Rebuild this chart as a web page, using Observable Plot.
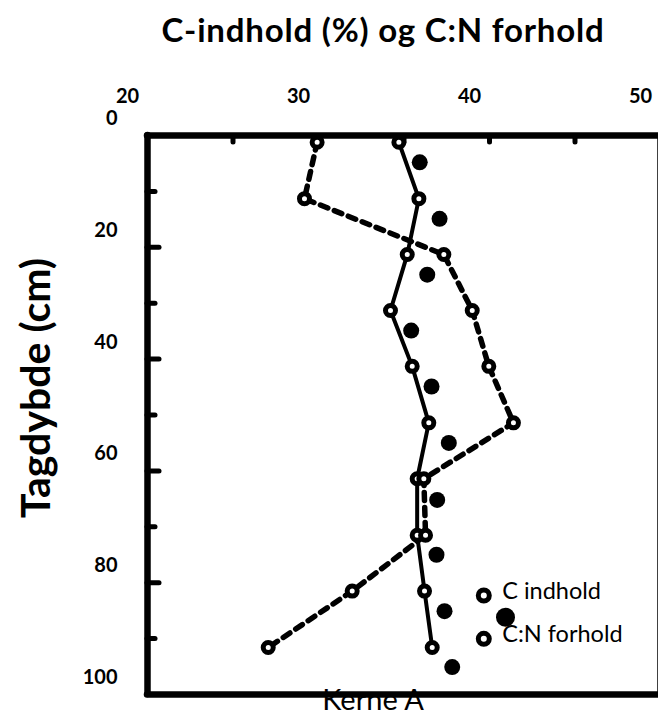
<!DOCTYPE html>
<html>
<head>
<meta charset="utf-8">
<script src="https://cdn.jsdelivr.net/npm/d3@7"></script>
<script src="https://cdn.jsdelivr.net/npm/@observablehq/plot@0.6"></script>
<style>
  html, body { margin: 0; padding: 0; background: #fff; overflow: hidden; }
  #wrap { position: relative; width: 658px; height: 714px; }
  #title { position: absolute; left: 83px; width: 600px; top: 9px; text-align: center;
           font-family: Lato, "Open Sans", sans-serif; font-weight: 700; font-size: 33px; line-height: 40px;
           letter-spacing: 0.8px; color: #000; }
  #chart svg { display: block; }
</style>
</head>
<body>
<div id="wrap">
  <div id="chart"></div>
  <div id="title"></div>
</div>
<script>
// ---- data ----
const titleText = "C-indhold (%) og C:N forhold";
const yTitle = "Tagdybde (cm)";
const caption = "Kerne A";
const legendLabels = ["C indhold", "C:N forhold"];

const depthOpen   = [1.2, 11.3, 21.3, 31.3, 41.3, 51.4, 61.4, 71.5, 81.5, 91.6];
const cIndhold    = [34.70, 35.87, 35.19, 34.21, 35.48, 36.45, 35.77, 35.77, 36.20, 36.65];
const cnForhold   = [29.92, 29.18, 37.33, 38.99, 39.96, 41.40, 36.16, 36.26, 31.97, 27.06];
const depthFilled = [4.8, 14.9, 24.9, 34.9, 44.9, 55.0, 65.2, 75.0, 85.1, 95.1];
const filledVals  = [35.92, 37.08, 36.36, 35.42, 36.61, 37.62, 36.94, 36.90, 37.37, 37.82];

const xDomain = [20, 50];
const yDomain = [0, 100];
const xTickLabels = [20, 30, 40, 50];
const yTickLabels = [0, 20, 40, 60, 80, 100];
const xInnerTicks = [25, 30, 35, 40, 45];
const yMajorTicks = [20, 40, 60, 80];
const yMinorTicks = [10, 30, 50, 70, 90];

// ---- tables ----
const cData  = depthOpen.map((d, i) => ({depth: d, value: cIndhold[i]}));
const cnData = depthOpen.map((d, i) => ({depth: d, value: cnForhold[i]}));
const fData  = depthFilled.map((d, i) => ({depth: d, value: filledVals[i]}));

document.getElementById("title").textContent = titleText;

const FONT = "Lato, 'Open Sans', sans-serif";

const chart = Plot.plot({
  width: 658,
  height: 714,
  marginTop: 135,
  marginBottom: 20,
  marginLeft: 147,
  marginRight: -2,
  style: {fontFamily: FONT, background: "transparent", color: "black", overflow: "visible"},
  x: {domain: xDomain},
  y: {domain: yDomain, reverse: true},
  marks: [
    // tick labels (offset from the frame as in the reference)
    Plot.axisX(xTickLabels, {anchor: "top", tickSize: 0, tickPadding: 33, dx: -20, fontSize: 20, fontWeight: "bold", label: null}),
    Plot.axisY(yTickLabels, {anchor: "left", tickSize: 0, tickPadding: 30, dy: -17, fontSize: 20, fontWeight: "bold", label: null}),
    // inner tick marks
    Plot.axisX(xInnerTicks, {anchor: "top", tickSize: -6, tickFormat: () => "", strokeWidth: 5, strokeLinecap: "round", label: null}),
    Plot.axisY(yMajorTicks, {anchor: "left", tickSize: -12, tickFormat: () => "", strokeWidth: 5, strokeLinecap: "round", label: null}),
    Plot.axisY(yMinorTicks, {anchor: "left", tickSize: -8, tickFormat: () => "", strokeWidth: 5, strokeLinecap: "round", label: null}),
    // caption, partly hidden by the frame
    Plot.text([caption], {frameAnchor: "bottom", dx: -31, dy: 6, fontSize: 29, fill: "black", lineAnchor: "middle", textAnchor: "middle"}),
    // y title
    Plot.text([yTitle], {frameAnchor: "left", textAnchor: "middle", dx: -111, dy: -27, rotate: -90, fontSize: 41, fontWeight: "bold", fill: "black"}),
    // series
    Plot.line(cData, {x: "value", y: "depth", stroke: "black", strokeWidth: 4}),
    Plot.line(cnData, {x: "value", y: "depth", stroke: "black", strokeWidth: 5.5, strokeDasharray: "8,7"}),
    Plot.dot(cData, {x: "value", y: "depth", r: 5, fill: "white", stroke: "black", strokeWidth: 5}),
    Plot.dot(cnData, {x: "value", y: "depth", r: 5, fill: "white", stroke: "black", strokeWidth: 5}),
    Plot.dot(fData, {x: "value", y: "depth", r: 8, fill: "black", stroke: "none"}),
    // frame
    Plot.ruleY([yDomain[0]], {stroke: "black", strokeWidth: 6.5, strokeLinecap: "round"}),
    Plot.ruleY([yDomain[1]], {stroke: "black", strokeWidth: 6.5, strokeLinecap: "round"}),
    Plot.ruleX([xDomain[0]], {stroke: "black", strokeWidth: 6.5, strokeLinecap: "round"}),
    Plot.ruleX([xDomain[1]], {stroke: "black", strokeWidth: 6.5, strokeLinecap: "round"}),
    // legend
    Plot.dot([legendLabels[0]], {frameAnchor: "bottom-right", dx: -176.7, dy: -99, r: 5.5, fill: "white", stroke: "black", strokeWidth: 5}),
    Plot.dot([legendLabels[1]], {frameAnchor: "bottom-right", dx: -176.7, dy: -55.7, r: 5.5, fill: "white", stroke: "black", strokeWidth: 5}),
    Plot.dot([legendLabels[0]], {frameAnchor: "bottom-right", dx: -155, dy: -77.3, r: 9.5, fill: "black", stroke: "none"}),
    Plot.text([legendLabels[0]], {frameAnchor: "bottom-right", dx: -158.3, dy: -95.3, textAnchor: "start", fontSize: 23.5, fill: "black"}),
    Plot.text([legendLabels[1]], {frameAnchor: "bottom-right", dx: -158.3, dy: -53, textAnchor: "start", fontSize: 23.5, fill: "black"})
  ]
});

document.getElementById("chart").appendChild(chart);
</script>
</body>
</html>
